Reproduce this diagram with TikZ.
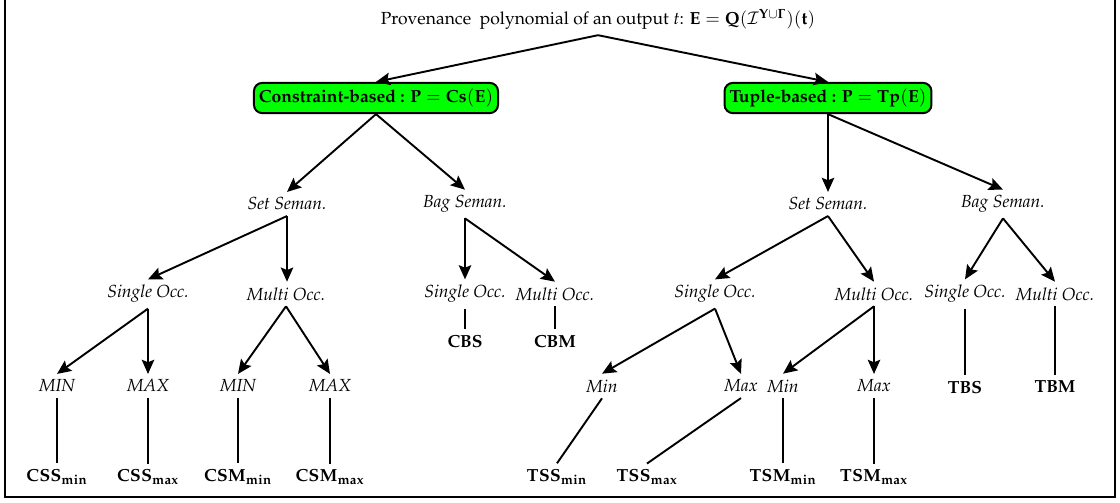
\documentclass[tikz,border=0pt]{standalone}
\usepackage[T1]{fontenc}
\usepackage{mathpazo}
\usetikzlibrary{arrows.meta}
\newcommand\dsize{\fontsize{10.5}{12.6}\selectfont}
\begin{document}
\begin{tikzpicture}[x=0.6pt,y=-0.6pt,
  every node/.style={font=\dsize},
  lbl/.style={font=\dsize\itshape},
  leaf/.style={font=\dsize\bfseries},
  kind/.style={draw, line width=1.2pt, rounded corners=5pt, fill=green, font=\dsize\bfseries, inner xsep=3pt, inner ysep=3.6pt},
  arr/.style={-{Stealth[length=8.5pt,width=7.5pt,inset=1.5pt]}, line width=1.15pt},
  ln/.style={line width=1.15pt}]
\useasboundingbox (0,0) rectangle (1120,502);
\draw[line width=1pt] (5,-3) rectangle (1115,497);

% root
\node (root) at (598,19) {Provenance~ polynomial of an output $t$: $\mathbf{E}=\mathbf{Q}(\mathcal{I}^{\mathbf{Y}\cup\mathbf{\Gamma}})(\mathbf{t})$};

% the two families
\node[kind] (cb) at (376,98) {Constraint-based : $\mathbf{P}=\mathbf{Cs}(\mathbf{E})$};
\node[kind] (tb) at (828,98) {Tuple-based : $\mathbf{P}=\mathbf{Tp}(\mathbf{E})$};

% semantics
\node[lbl] (ls) at (287,204) {Set Seman.};
\node[lbl] (lb) at (465,204) {Bag Seman.};
\node[lbl] (rs) at (828,204) {Set Seman.};
\node[lbl] (rb) at (1003,204) {Bag Seman.};

% occurrences
\node[lbl] (lss) at (148,294) {Single Occ.};
\node[lbl] (lsm) at (286,294) {Multi Occ.};
\node[lbl] (lbs) at (465,294) {Single Occ.};
\node[lbl] (lbm) at (555,294) {Multi Occ.};
\node[lbl] (rss) at (715,294) {Single Occ.};
\node[lbl] (rsm) at (874,294) {Multi Occ.};
\node[lbl] (rbs) at (965,294) {Single Occ.};
\node[lbl] (rbm) at (1055,294) {Multi Occ.};

% aggregates
\node[lbl] (lmin1) at (57,386) {MIN};
\node[lbl] (lmax1) at (148,386) {MAX};
\node[lbl] (lmin2) at (238,386) {MIN};
\node[lbl] (lmax2) at (330,386) {MAX};
\node[lbl] (rmin1) at (602,386) {Min};
\node[lbl] (rmax1) at (741,386) {Max};
\node[lbl] (rmin2) at (783,386) {Min};
\node[lbl] (rmax2) at (874,386) {Max};

% leaves
\node[leaf] (cbs) at (465,341) {CBS};
\node[leaf] (cbm) at (555,341) {CBM};
\node[leaf] (tbs) at (965,387) {TBS};
\node[leaf] (tbm) at (1055,387) {TBM};
\node[leaf] (cssmin) at (57,477) {$\mathbf{CSS}_{\mathbf{min}}$};
\node[leaf] (cssmax) at (148,477) {$\mathbf{CSS}_{\mathbf{max}}$};
\node[leaf] (csmmin) at (238,477) {$\mathbf{CSM}_{\mathbf{min}}$};
\node[leaf] (csmmax) at (330,477) {$\mathbf{CSM}_{\mathbf{max}}$};
\node[leaf] (tssmin) at (557,477) {$\mathbf{TSS}_{\mathbf{min}}$};
\node[leaf] (tssmax) at (647,477) {$\mathbf{TSS}_{\mathbf{max}}$};
\node[leaf] (tsmmin) at (783,477) {$\mathbf{TSM}_{\mathbf{min}}$};
\node[leaf] (tsmmax) at (874,477) {$\mathbf{TSM}_{\mathbf{max}}$};

% arrows
\draw[arr] (root.south) -- (cb.north);
\draw[arr] (root.south) -- (tb.north);
\draw[arr] (cb.south) -- (ls.north);
\draw[arr] (cb.south) -- (lb.north);
\draw[arr] (tb.south) -- (rs.north);
\draw[arr] (tb.south) -- (rb.north);
\draw[arr] (ls.south) -- (lss.north);
\draw[arr] (ls.south) -- (ls.south |- lsm.north);
\draw[arr] (lb.south) -- (lbs.north);
\draw[arr] (lb.south) -- (lbm.north);
\draw[arr] (rs.south) -- (rss.north);
\draw[arr] (rs.south) -- (rsm.north);
\draw[arr] (rb.south) -- (rbs.north);
\draw[arr] (rb.south) -- (rbm.north);
\draw[arr] (lss.south) -- (lmin1.north);
\draw[arr] (lss.south) -- (lmax1.north);
\draw[arr] (lsm.south) -- (lmin2.north);
\draw[arr] (lsm.south) -- (lmax2.north);
\draw[arr] (rss.south) -- (rmin1.north);
\draw[arr] (rss.south) -- (rmax1.north);
\draw[arr] (rsm.south) -- (rmin2.north);
\draw[arr] (rsm.south) -- (rmax2.north);

% plain links to the leaves
\draw[ln] (lbs.south) -- (cbs.north);
\draw[ln] (lbm.south) -- (cbm.north);
\draw[ln] (rbs.south) -- (tbs.north);
\draw[ln] (rbm.south) -- (tbm.north);
\draw[ln] (lmin1.south) -- (cssmin.north);
\draw[ln] (lmax1.south) -- (cssmax.north);
\draw[ln] (lmin2.south) -- (csmmin.north);
\draw[ln] (lmax2.south) -- (csmmax.north);
\draw[ln] (rmin1.south) -- (tssmin.north);
\draw[ln] (rmax1.south) -- (tssmax.north);
\draw[ln] (rmin2.south) -- (tsmmin.north);
\draw[ln] (rmax2.south) -- (tsmmax.north);
\end{tikzpicture}
\end{document}
